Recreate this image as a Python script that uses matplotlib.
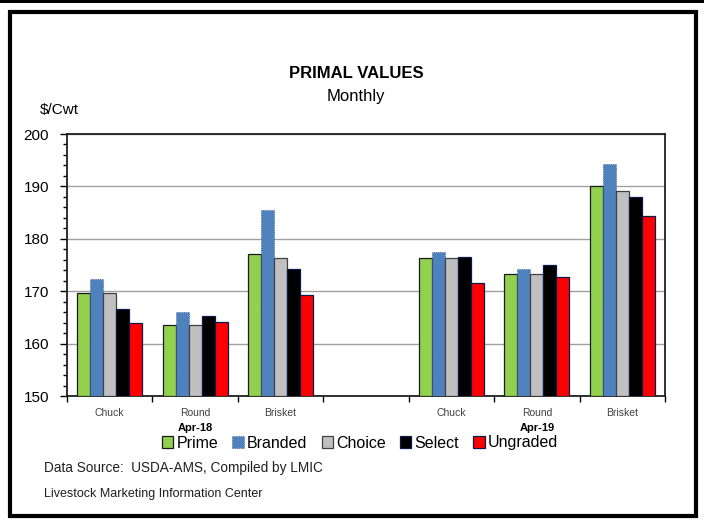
import matplotlib.pyplot as plt
from matplotlib.patches import Rectangle
from matplotlib.transforms import blended_transform_factory
import numpy as np

# ===== data =====
cuts = ["Chuck", "Round", "Brisket"]
periods = ["Apr-18", "Apr-19"]
series = ["Prime", "Branded", "Choice", "Select", "Ungraded"]

prime_18 = [169.7, 163.6, 177.1]
branded_18 = [172.4, 166.1, 185.5]
choice_18 = [169.6, 163.6, 176.4]
select_18 = [166.6, 165.2, 174.3]
ungraded_18 = [163.9, 164.1, 169.3]

prime_19 = [176.4, 173.2, 190.1]
branded_19 = [177.5, 174.3, 194.3]
choice_19 = [176.3, 173.2, 189.2]
select_19 = [176.6, 175.0, 187.9]
ungraded_19 = [171.6, 172.7, 184.3]

values_18 = [prime_18, branded_18, choice_18, select_18, ungraded_18]
values_19 = [prime_19, branded_19, choice_19, select_19, ungraded_19]

# ===== styles =====
face_colors = ["#92D050", "#4F81BD", "#C0C0C0", "#000000", "#FF0000"]
edge_colors = ["#1a1a1a", "#2E5A96", "#404040", "#0A1A4A", "#0A1A4A"]
edge_styles = ["-", ":", "-", "-", "-"]
edge_widths = [0.9, 0.6, 0.9, 0.9, 0.9]

plt.rcParams["font.family"] = ["Liberation Sans", "DejaVu Sans"]

fig = plt.figure(figsize=(7.04, 5.21), dpi=100)
ax = fig.add_axes([67 / 704, 1 - 396 / 521, 598 / 704, 262 / 521])

# category slots: 3 cuts, blank, 3 cuts
slot_labels = cuts + [""] + cuts
x18 = np.arange(len(cuts))
x19 = np.arange(len(cuts)) + len(cuts) + 1

bar_w = 0.152
offsets = (np.arange(len(series)) - 2) * bar_w

for i, name in enumerate(series):
    for xs, vals in ((x18, values_18[i]), (x19, values_19[i])):
        ax.bar(xs + offsets[i], np.array(vals) - 150, bottom=150, width=bar_w,
               color=face_colors[i], edgecolor=edge_colors[i],
               linestyle=edge_styles[i], linewidth=edge_widths[i], zorder=3,
               label=name if xs is x18 else None)

ax.set_ylim(150, 200)
ax.set_xlim(-0.5, len(slot_labels) - 0.5)
ax.set_yticks(np.arange(150, 201, 10))
ax.set_yticks(np.arange(150, 201, 2), minor=True)
ax.yaxis.grid(True, color="#A0A0A0", linewidth=1.0, zorder=0)
ax.tick_params(axis="y", which="major", labelsize=11, length=5, width=1, direction="out", pad=8)
ax.tick_params(axis="y", which="minor", length=3, width=1, direction="out")

ax.set_xticks(np.arange(-0.5, len(slot_labels), 1.0))
ax.set_xticklabels([])
ax.tick_params(axis="x", which="major", length=4, width=1, direction="out")
ax.set_xticks(np.arange(len(slot_labels)), minor=True)
ax.set_xticklabels(slot_labels, minor=True, fontsize=7.5, color="#404040")
ax.tick_params(axis="x", which="minor", length=0, pad=9)

for s in ax.spines.values():
    s.set_linewidth(1.3)
    s.set_color("#202020")

trans = blended_transform_factory(ax.transData, ax.transAxes)
ax.text(x18[1], -0.123, periods[0], transform=trans, ha="center", va="center",
        fontsize=8, fontweight="bold")
ax.text(x19[1], -0.123, periods[1], transform=trans, ha="center", va="center",
        fontsize=8, fontweight="bold")

# titles
fig.text(356 / 704, 1 - 74 / 521, "PRIMAL VALUES", ha="center", va="center",
         fontsize=12, fontweight="bold")
fig.text(356 / 704, 1 - 96 / 521, "Monthly", ha="center", va="center", fontsize=12)
fig.text(40 / 704, 1 - 110 / 521, "$/Cwt", ha="left", va="center", fontsize=11)

# legend
handles, labels = ax.get_legend_handles_labels()
fig.legend(handles, labels, loc="center", bbox_to_anchor=(360 / 704, 1 - 443 / 521),
           ncol=5, frameon=False, fontsize=11.5, handlelength=0.7, handleheight=0.7,
           handletextpad=0.2, columnspacing=0.9, borderpad=0)

fig.text(44 / 704, 1 - 468 / 521, "Data Source:  USDA-AMS, Compiled by LMIC",
         ha="left", va="center", fontsize=9.8, color="#202020")
fig.text(44 / 704, 1 - 494 / 521, "Livestock Marketing Information Center",
         ha="left", va="center", fontsize=9, color="#202020")

# outer frame
fig.patches.append(Rectangle((10 / 704, 1 - 516 / 521), 686 / 704, 504 / 521,
                             transform=fig.transFigure, fill=False,
                             edgecolor="black", linewidth=3))
fig.patches.append(Rectangle((0, 1 - 3 / 521), 1, 3 / 521, transform=fig.transFigure,
                             facecolor="black", edgecolor="none"))

fig.savefig("out.png", dpi=100)
plt.close(fig)
